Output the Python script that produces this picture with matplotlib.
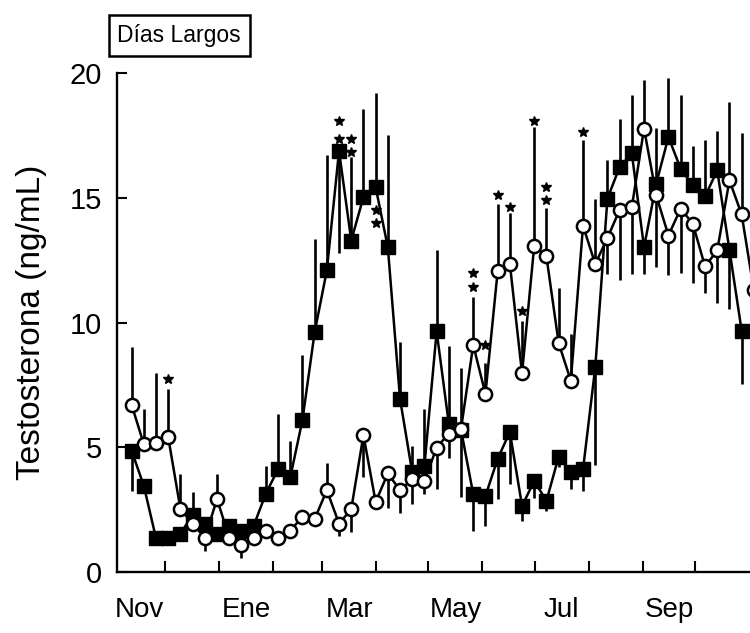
import matplotlib.pyplot as plt
import numpy as np

plt.rcParams['font.family'] = ['Liberation Sans', 'DejaVu Sans']

# muestreo semanal (dias desde el 1 de noviembre)
semanas = np.arange(52)
dias = 10.7 + 7 * semanas

# cuadrados negros
t_cuad = [4.86, 3.45, 1.35, 1.35, 1.54, 2.29, 1.92, 1.51, 1.85, 1.65, 1.85, 3.14, 4.12, 3.79, 6.09,
          9.61, 12.09, 16.88, 13.29, 15.03, 15.43, 13.02, 6.94, 3.99, 4.26, 9.65, 5.93, 5.70, 3.12, 3.05,
          4.53, 5.62, 2.65, 3.65, 2.85, 4.62, 3.99, 4.12, 8.20, 14.97, 16.24, 16.78, 13.02, 15.57, 17.44,
          16.17, 15.50, 15.06, 16.10, 12.92, 9.68]
err_cuad_up = [0, 0, 0, 0, 0, 0.9, 0, 0, 0, 0, 0, 1.11, 2.2, 1.48, 2.59,
               3.74, 4.63, 0, 3.35, 3.52, 3.77, 4.5, 2.28, 1.07, 2.27, 3.24, 3.14, 2.46, 0, 0,
               0, 0, 0, 0, 0, 0, 0, 0, 0, 1.54, 1.94, 2.34, 0, 2.22, 2.36,
               2.96, 1.6, 2.25, 1.6, 0, 0]
err_cuad_dn = [1.6, 0, 0, 0, 0, 0, 0, 0, 0, 0, 0, 0, 0, 0, 0,
               0, 0, 4.1, 0, 0, 0, 0, 0, 0, 0, 0, 0, 0, 1.47, 1.2,
               1.6, 2.09, 0.6, 0.67, 0.4, 0.43, 0.67, 0.88, 3.9, 0, 0, 0, 1.06, 0, 0,
               0, 0, 0, 0, 2.36, 2.13]

# circulos blancos
t_circ = [6.70, 5.12, 5.18, 5.40, 2.52, 1.94, 1.38, 2.92, 1.38, 1.08, 1.38, 1.65, 1.38, 1.65, 2.22,
          2.12, 3.28, 1.94, 2.52, 5.49, 2.81, 3.95, 3.28, 3.72, 3.65, 4.99, 5.55, 5.74, 9.10, 7.14,
          12.05, 12.36, 7.96, 13.09, 12.65, 9.18, 7.67, 13.88, 12.35, 13.39, 14.52, 14.63, 17.78, 15.10,
          13.49, 14.57, 13.96, 12.25, 12.89, 15.70, 14.34, 11.30]
err_circ_up = [2.34, 1.41, 2.81, 1.92, 1.41, 0, 0, 1.0, 0, 0, 0, 0, 0, 0, 0,
               0, 1.1, 0, 0, 0, 0, 0, 0, 0, 0, 0, 0, 0, 1.91, 1.22,
               2.72, 2.02, 2.1, 4.75, 1.93, 2.22, 1.89, 3.43, 2.62, 0, 0, 0, 1.94, 0,
               0, 0, 0, 0, 0, 3.13, 3.27, 0]
err_circ_dn = [0, 0, 0, 0, 0, 0, 0.54, 0, 0, 0.5, 0, 0, 0, 0, 0,
               0, 0, 0.5, 0.9, 1.7, 0, 1.37, 0.9, 1.0, 0.52, 1.67, 0.96, 2.75, 0, 0,
               0, 0, 0, 0, 0, 0, 0, 0, 0, 1.43, 2.83, 2.67, 0, 2.89,
               1.6, 2.6, 2.39, 1.08, 2.12, 0, 0, 0]

# asteriscos (semana, altura)
ast_sem = [3, 17, 17, 18, 18, 20, 20, 28, 28, 29, 30, 31, 32, 33, 34, 34, 37]
ast_y = [7.75, 18.07, 17.35, 17.35, 16.83, 14.5, 14.0, 11.97, 11.41, 9.12, 15.1, 14.62,
         10.48, 18.07, 15.42, 14.9, 17.63]

# limites de mes y etiquetas
limites_mes = [30, 61, 92, 120, 151, 181, 212, 242, 273, 304, 334]
meses = ["Nov", "Ene", "Mar", "May", "Jul", "Sep"]
centros_mes = [15, 76.5, 135.5, 196.5, 257.5, 319]

fig = plt.figure(figsize=(7.5, 6.33), dpi=100)
ax = fig.add_axes([0.156, 0.0964, 0.844, 0.788])

x_cuad = dias[:len(t_cuad)]
x_circ = dias[:len(t_circ)]

ax.errorbar(x_cuad, t_cuad, yerr=[err_cuad_dn, err_cuad_up], fmt='none', ecolor='black',
            elinewidth=1.9, capsize=0, zorder=1, clip_on=False)
ax.errorbar(x_circ, t_circ, yerr=[err_circ_dn, err_circ_up], fmt='none', ecolor='black',
            elinewidth=1.9, capsize=0, zorder=1, clip_on=False)

ax.plot(x_cuad, t_cuad, color='black', lw=1.8, marker='s', markersize=10,
        mfc='black', mec='black', zorder=2, clip_on=False)
ax.plot(x_circ, t_circ, color='black', lw=1.8, marker='o', markersize=9.5,
        mfc='white', mec='black', mew=1.8, zorder=3, clip_on=False)

ax.plot(dias[ast_sem], ast_y, ls='none', marker='*', markersize=7, color='black', zorder=4)

ax.set_xlim(2.3, 365.5)
ax.set_ylim(0, 20)

ax.set_xticks(limites_mes)
ax.set_xticklabels([])
ax.set_xticks(centros_mes, minor=True)
ax.set_xticklabels(meses, minor=True, fontsize=20)
ax.tick_params(axis='x', which='major', direction='in', length=8, width=1.5)
ax.tick_params(axis='x', which='minor', length=0, pad=18)

ax.set_yticks([0, 5, 10, 15, 20])
ax.tick_params(axis='y', direction='in', length=7, width=1.5, labelsize=21, pad=11)

ax.spines['top'].set_visible(False)
ax.spines['right'].set_visible(False)
ax.spines['left'].set_linewidth(1.7)
ax.spines['bottom'].set_linewidth(1.7)
ax.spines['left'].set_bounds(0, 20)

ax.set_ylabel("Testosterona (ng/mL)", fontsize=24, labelpad=16)

fig.text(0.239, 0.944, "Días Largos", fontsize=16.5, ha='center', va='center',
         bbox=dict(boxstyle='square,pad=0.38', facecolor='white', edgecolor='black', linewidth=1.8))

plt.savefig("out.png", dpi=100)
